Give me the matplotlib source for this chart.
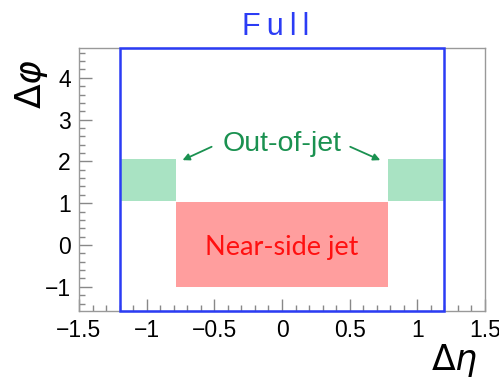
import matplotlib
matplotlib.use("Agg")
import matplotlib.pyplot as plt
from matplotlib.patches import Rectangle
from matplotlib.ticker import MultipleLocator
import numpy as np

# region limits (Δη, Δφ)
eta_full = [-1.2, 1.2]
phi_range = [-np.pi / 2, 3 * np.pi / 2]
eta_jet = [-0.78, 0.78]
phi_jet = [-1.0, 1.02]
phi_oj = [1.05, 2.05]
oj_eta_left = [-1.2, -0.78]
oj_eta_right = [0.78, 1.2]

title_text = "F\u2009u\u2009l\u2009l"
jet_label = "Near-side jet"
oj_label = "Out-of-jet"
xtick_vals = [-1.5, -1, -0.5, 0, 0.5, 1, 1.5]
xtick_labels = ["\u22121.5", "\u22121", "\u22120.5", "0", "0.5", "1", "1.5"]
ytick_vals = [-1, 0, 1, 2, 3, 4]
ytick_labels = ["\u22121", "0", "1", "2", "3", "4"]

plt.rcParams['font.family'] = ['Liberation Sans', 'DejaVu Sans']

fig = plt.figure(figsize=(4.99, 3.8), dpi=100)
ax = fig.add_axes([0.1583, 0.1824, 0.8137, 0.6913])
ax.set_xlim(-1.5, 1.5)
ax.set_ylim(phi_range[0], phi_range[1])

# near-side jet region
ax.add_patch(Rectangle((eta_jet[0], phi_jet[0]), eta_jet[1] - eta_jet[0],
                       phi_jet[1] - phi_jet[0], fc="#ff9e9e", ec="none", zorder=1))
# out-of-jet strips
for e in (oj_eta_left, oj_eta_right):
    ax.add_patch(Rectangle((e[0], phi_oj[0]), e[1] - e[0], phi_oj[1] - phi_oj[0],
                           fc="#a9e3c3", ec="none", zorder=1))
# full acceptance box
ax.add_patch(Rectangle((eta_full[0], phi_range[0]), eta_full[1] - eta_full[0],
                       phi_range[1] - phi_range[0], fc="none", ec="#2b3cf5",
                       lw=1.8, zorder=3, clip_on=False))

ax.text(0.0, -0.236, jet_label, color="#ff1010", fontsize=19.5, family="Lato",
        ha="center", va="baseline", zorder=4)

ax.text(0.0, 2.246, oj_label, color="#1a9150", fontsize=20.5,
        ha="center", va="baseline", zorder=4)
arrow = dict(arrowstyle="-|>", color="#1a9150", lw=1.3, mutation_scale=10,
             shrinkA=0, shrinkB=0)
ax.annotate("", xy=(-0.735, 2.03), xytext=(-0.52, 2.35), arrowprops=arrow)
ax.annotate("", xy=(0.726, 2.03), xytext=(0.504, 2.35), arrowprops=arrow)

fig.text(0.553, 1 - 35 / 380, title_text, color="#2b3cf5", fontsize=22,
         ha="center", va="baseline",
         family=['Liberation Sans', 'DejaVu Sans'])

# axis styling
ax.xaxis.set_minor_locator(MultipleLocator(0.1))
ax.yaxis.set_minor_locator(MultipleLocator(0.2))
ax.set_xticks(xtick_vals)
ax.set_xticklabels(xtick_labels)
ax.set_yticks(ytick_vals)
ax.set_yticklabels(ytick_labels)
ax.tick_params(which="both", direction="in", color="#888888", width=1,
               labelsize=16.5, top=False, right=False)
ax.tick_params(which="major", length=9, pad=6)
ax.tick_params(which="minor", length=4.5)
for s in ax.spines.values():
    s.set_color("#999999")
    s.set_linewidth(1)

fig.text(0.958, 0.052, r"$\Delta\eta$", fontsize=25, ha="right", va="center")
fig.text(0.064, 0.78, r"$\Delta\varphi$", fontsize=26, ha="center", va="center",
         rotation=90)

fig.savefig("out.png", dpi=100)
